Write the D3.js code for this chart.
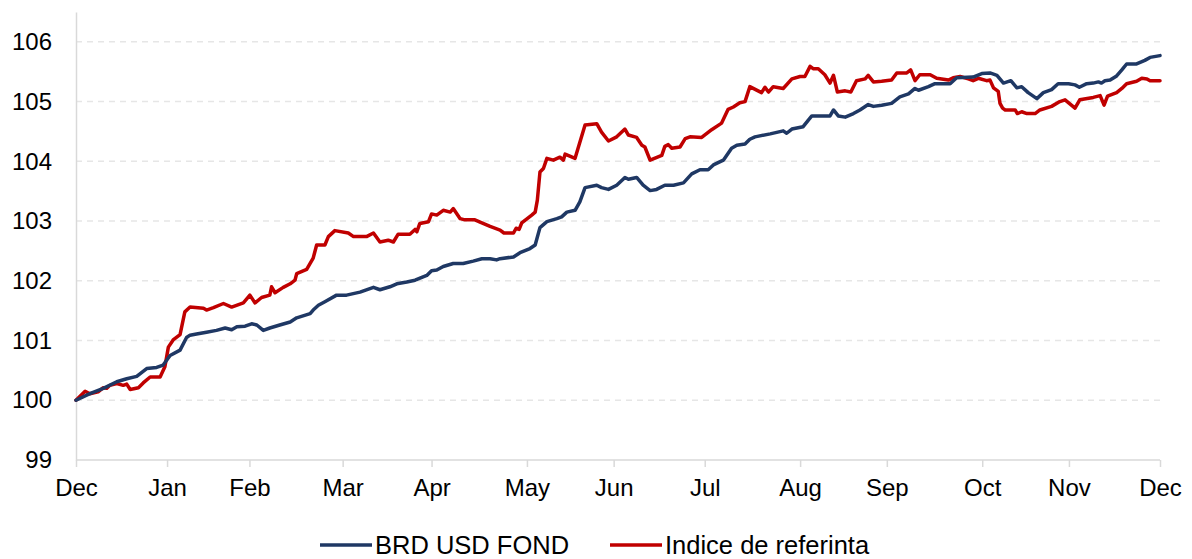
<!DOCTYPE html>
<html>
<head>
<meta charset="utf-8">
<script src="https://cdn.jsdelivr.net/npm/d3@7"></script>
<style>
  body { margin: 0; background: #fff; }
  svg text { font-family: "Liberation Sans", Arial, sans-serif; fill: #000; }
</style>
</head>
<body>
<div id="chart"></div>
<script>
// x is trading-day index since start (Dec), month ticks placed on it
const monthLabels = ["Dec","Jan","Feb","Mar","Apr","May","Jun","Jul","Aug","Sep","Oct","Nov","Dec"];
const monthDays   = [0, 21, 40, 61.5, 82, 104, 124, 145, 167, 187, 209, 229, 250];
const yTicks      = [99, 100, 101, 102, 103, 104, 105, 106];

// BRD USD FOND
const fundDays = [0,3.2,6.3,9.4,11.7,14,16.3,18.6,20.1,21.7,24,25.5,26.3,27.8,30.1,32.4,34.4,35.9,37.1,39,40.5,41.7,43.2,44.7,47,49.4,50.9,54,54.7,55.9,57.4,60.1,62.4,65.5,68.6,70.1,72.4,74,76.3,78.2,80.9,82,83.2,84.7,87,89.3,91.6,93.6,95.5,97,97.8,100.9,102.4,104.7,105.9,107,108.6,110.9,112,113.2,115.1,116.2,117.4,120.1,121.2,122.8,124.7,126.6,127.4,129.3,130.8,132.4,133.9,135.8,137.8,140.1,142,143.9,145.8,147,149.3,151.2,152.4,154.3,155.4,156.6,160.1,163.1,163.9,165.1,167.7,168.9,169.7,173.9,174.7,175.8,177.4,179.3,180.8,182.7,183.9,185.8,188.1,190,192,193.5,194.3,196.6,198.1,201.6,203.1,206.9,208.9,210.8,212.4,213.9,215.6,217,218.1,219.6,221.6,223.1,225,226.5,228.9,230.4,231.4,233.1,234.6,235.8,236.5,237.3,238.5,240,241.2,242.3,244.6,246.5,247.7,250];
const fundValues = [100,100.11,100.2,100.31,100.36,100.4,100.53,100.55,100.59,100.75,100.84,101.05,101.09,101.11,101.14,101.17,101.21,101.18,101.23,101.24,101.28,101.26,101.17,101.21,101.26,101.31,101.38,101.45,101.51,101.59,101.65,101.76,101.76,101.81,101.89,101.85,101.9,101.95,101.98,102.01,102.09,102.17,102.18,102.24,102.29,102.29,102.33,102.37,102.37,102.35,102.37,102.4,102.47,102.54,102.6,102.89,102.99,103.04,103.07,103.15,103.18,103.32,103.56,103.6,103.56,103.53,103.6,103.73,103.7,103.73,103.6,103.51,103.53,103.6,103.6,103.64,103.79,103.86,103.86,103.94,104.02,104.22,104.27,104.29,104.37,104.41,104.46,104.51,104.47,104.54,104.58,104.69,104.76,104.76,104.86,104.76,104.74,104.8,104.86,104.95,104.92,104.94,104.97,105.08,105.13,105.22,105.19,105.25,105.3,105.3,105.4,105.41,105.47,105.48,105.44,105.31,105.35,105.23,105.25,105.15,105.05,105.15,105.2,105.3,105.3,105.28,105.24,105.3,105.31,105.33,105.31,105.35,105.36,105.43,105.53,105.63,105.63,105.69,105.74,105.77];

// Indice de referinta
const indexDays = [0,2.1,3.2,5.1,6.3,7.1,7.8,9.4,10.9,11.7,12.5,14.4,15.5,17.1,19.4,20.5,21.3,22.4,24,25.1,26.3,29.4,30.1,31.7,34,35.9,38.6,40.1,41.3,42.8,44.7,45.1,45.9,47.8,49.4,50.5,50.9,53.2,54.7,55.5,57.4,58.2,59.7,62.8,64,67,68.6,70.1,72,73.2,74.3,77,78.2,78.6,79.3,81.3,82,83.2,84.7,86.3,87,88.6,89.7,92,93.6,95.5,97.8,98.7,100.9,101.5,102.2,102.8,105.1,105.9,106.4,107,107.8,108.6,110.1,111.6,112.4,112.8,115.1,117.4,120.1,121.2,122.8,124.7,126.6,127.4,129.3,130.5,131.2,132.4,135.1,135.8,136.6,137.4,139.3,140.5,141.6,144.3,146.6,148.9,150.4,151.6,153.1,154.3,155.4,158.1,158.9,159.7,160.8,163.1,165.1,167,168.1,169.3,170,171.2,172.7,173.9,174.7,175.6,177.4,178.7,180,182,182.7,183.9,185.8,188.1,189.3,191.6,192.5,193.5,194.6,197,198.5,201.2,202.3,203.9,205.8,206.9,208.1,210,210.8,211.6,212.7,213.1,213.7,214.3,216.6,217.1,218.1,219.3,221.2,222.3,225,226.9,228.1,230.4,231.5,234.6,236.2,237.1,237.9,240,241.2,242.3,244.6,245.8,247,247.7,250];
const indexValues = [100,100.15,100.11,100.14,100.21,100.2,100.25,100.28,100.25,100.27,100.18,100.21,100.29,100.39,100.39,100.56,100.89,101.01,101.1,101.48,101.56,101.54,101.51,101.55,101.62,101.56,101.63,101.76,101.63,101.72,101.76,101.9,101.8,101.89,101.95,102.01,102.12,102.19,102.38,102.6,102.6,102.74,102.84,102.8,102.74,102.74,102.8,102.65,102.68,102.65,102.78,102.78,102.86,102.82,102.96,102.99,103.12,103.1,103.18,103.15,103.21,103.04,103.02,103.02,102.97,102.91,102.85,102.8,102.8,102.88,102.86,102.97,103.1,103.15,103.35,103.82,103.88,104.05,104.02,104.07,104.02,104.12,104.05,104.61,104.63,104.49,104.34,104.41,104.54,104.44,104.4,104.27,104.24,104.02,104.1,104.25,104.28,104.22,104.24,104.38,104.41,104.4,104.53,104.64,104.87,104.91,104.98,105,105.25,105.15,105.24,105.16,105.25,105.22,105.38,105.42,105.42,105.59,105.55,105.55,105.45,105.31,105.44,105.16,105.18,105.16,105.35,105.38,105.44,105.33,105.34,105.36,105.48,105.48,105.53,105.35,105.45,105.45,105.39,105.36,105.4,105.42,105.38,105.35,105.39,105.35,105.36,105.23,105.17,104.97,104.89,104.86,104.86,104.8,104.83,104.8,104.8,104.86,104.92,105,105.03,104.89,105.03,105.07,105.1,104.94,105.09,105.15,105.22,105.3,105.34,105.39,105.38,105.35,105.35];

const seriesNames  = ["BRD USD FOND", "Indice de referinta"];
const seriesColors = ["#1f3864", "#c00000"];

const W = 1192, H = 559;
const PLOT = { LEFT: 76, RIGHT: 1160, TOP: 12, BOTTOM: 460 };

const svg = d3.select("#chart").append("svg")
  .attr("width", W).attr("height", H);

const x = d3.scaleLinear().domain([0, 250]).range([PLOT.LEFT, PLOT.RIGHT]);
const y = d3.scaleLinear().domain([99, 106.5]).range([PLOT.BOTTOM, PLOT.TOP]);

// dashed gridlines
svg.append("g").selectAll("line")
  .data(yTicks.filter(t => t > 99))
  .enter().append("line")
  .attr("x1", PLOT.LEFT).attr("x2", PLOT.RIGHT)
  .attr("y1", d => y(d)).attr("y2", d => y(d))
  .attr("stroke", "#e6e6e6")
  .attr("stroke-width", 1.5)
  .attr("stroke-dasharray", "6,5");

// y axis
const yAxis = svg.append("g")
  .attr("transform", `translate(${PLOT.LEFT},0)`)
  .call(d3.axisLeft(y).tickValues(yTicks).tickSize(0).tickPadding(24).tickFormat(d3.format("d")));
yAxis.select(".domain").attr("stroke", "#d9d9d9").attr("stroke-width", 1.5);
yAxis.selectAll("text").style("font-size", "24px");

// x axis
const xAxis = svg.append("g")
  .attr("transform", `translate(0,${PLOT.BOTTOM})`)
  .call(d3.axisBottom(x).tickValues(monthDays).tickSize(7).tickPadding(12)
    .tickFormat((d, i) => monthLabels[i]));
xAxis.select(".domain").attr("d", `M${PLOT.LEFT},0H${PLOT.RIGHT}`)
  .attr("stroke", "#d9d9d9").attr("stroke-width", 1.5);
xAxis.selectAll(".tick line").attr("stroke", "#d9d9d9").attr("stroke-width", 1.5);
xAxis.selectAll("text").style("font-size", "24px");

// lines
const line = d3.line()
  .x(d => x(d[0]))
  .y(d => y(d[1]));

const series = [
  d3.zip(fundDays, fundValues),
  d3.zip(indexDays, indexValues)
];

// red first so the fund line sits on top where they cross
[1, 0].forEach(i => {
  svg.append("path")
    .datum(series[i])
    .attr("d", line)
    .attr("fill", "none")
    .attr("stroke", seriesColors[i])
    .attr("stroke-width", 3.5)
    .attr("stroke-linejoin", "round")
    .attr("stroke-linecap", "round");
});

// legend
const legendX = [320, 610];
const legend = svg.append("g");
seriesNames.forEach((name, i) => {
  legend.append("line")
    .attr("x1", legendX[i]).attr("x2", legendX[i] + 52)
    .attr("y1", 545).attr("y2", 545)
    .attr("stroke", seriesColors[i])
    .attr("stroke-width", 3.5);
  legend.append("text")
    .attr("x", legendX[i] + 55)
    .attr("y", 545)
    .attr("dy", "0.36em")
    .style("font-size", "25.5px")
    .text(name);
});
</script>
</body>
</html>
